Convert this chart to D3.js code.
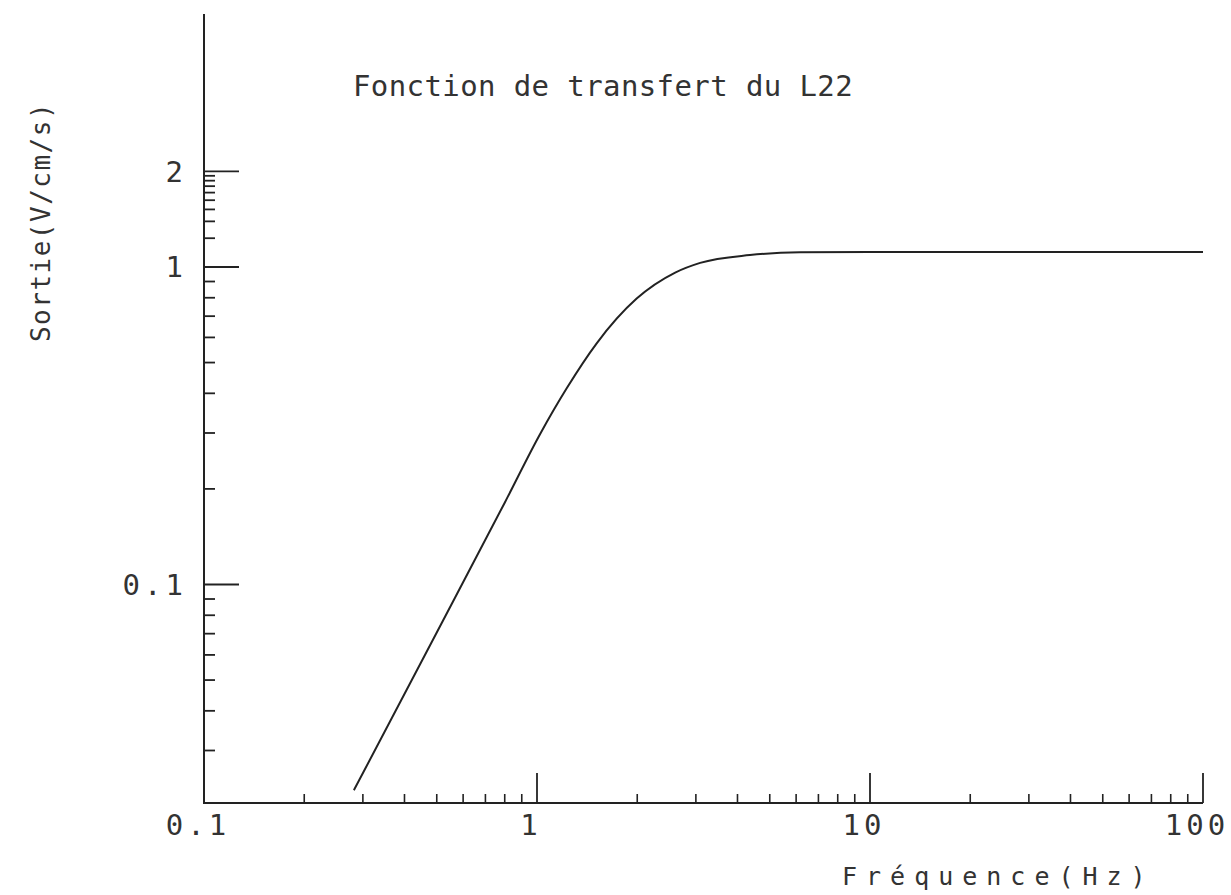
<!DOCTYPE html>
<html>
<head>
<meta charset="utf-8">
<script src="https://cdn.jsdelivr.net/npm/d3@7"></script>
<style>
  html, body { margin: 0; padding: 0; background: #fff; }
  svg { display: block; }
  text { font-family: "DejaVu Sans Mono", "Liberation Mono", monospace; fill: #333; }
</style>
</head>
<body>
<svg id="chart" width="1231" height="895"></svg>
<script>
// ---- data ----
const freqHz = [0.282, 0.50, 0.80, 1.021, 1.228, 1.511, 1.992, 2.6, 3.09, 4.36, 6.17, 10, 30, 100];
const outputVcms = [0.0225, 0.0706, 0.181, 0.2975, 0.415, 0.575, 0.795, 0.96, 1.03, 1.09, 1.112, 1.115, 1.115, 1.115];

const xMajorTicks = [1, 10, 100];
const xMinorTicks = [0.2,0.3,0.4,0.5,0.6,0.7,0.8,0.9, 2,3,4,5,6,7,8,9, 20,30,40,50,60,70,80,90];
const xTickLabels = [
  { v: 0.1, t: "0.1" }, { v: 1, t: "1" }, { v: 10, t: "10" }, { v: 100, t: "100" }
];
const yMajorTicks = [0.1, 1, 2];
const yMinorTicks = [0.03,0.04,0.05,0.06,0.07,0.08,0.09, 0.2,0.3,0.4,0.5,0.6,0.7,0.8,0.9,
                     1.232,1.392,1.518,1.623,1.715,1.797,1.870,1.937];
const yTickLabels = [ { v: 2, t: "2" }, { v: 1, t: "1" }, { v: 0.1, t: "0.1" } ];

const titleText = "Fonction de transfert du L22";
const xLabel = "Fréquence(Hz)";
const yLabel = "Sortie(V/cm/s)";

// ---- layout ----
const svg = d3.select("#chart");
const x = d3.scaleLog().domain([0.1, 100]).range([204, 1203]);
const y = d3.scaleLog().domain([0.0205, 2]).range([803, 171.4]);
const axisTop = 14;
const ink = "#222";

// axes lines
svg.append("line").attr("x1", x(0.1)).attr("x2", x(0.1))
  .attr("y1", y.range()[0]).attr("y2", axisTop)
  .attr("stroke", ink).attr("stroke-width", 2);
svg.append("line").attr("x1", x(0.1) - 1).attr("x2", x(100))
  .attr("y1", y.range()[0]).attr("y2", y.range()[0])
  .attr("stroke", ink).attr("stroke-width", 2);

// x ticks
const x0 = y.range()[0];
svg.append("g").selectAll("line").data(xMinorTicks).join("line")
  .attr("x1", d => x(d)).attr("x2", d => x(d))
  .attr("y1", x0).attr("y2", x0 - 9)
  .attr("stroke", ink).attr("stroke-width", 1.6);
svg.append("g").selectAll("line").data(xMajorTicks).join("line")
  .attr("x1", d => x(d)).attr("x2", d => x(d))
  .attr("y1", x0).attr("y2", x0 - 30)
  .attr("stroke", ink).attr("stroke-width", 1.8);

// y ticks
const y0 = x(0.1);
svg.append("g").selectAll("line").data(yMinorTicks).join("line")
  .attr("x1", y0).attr("x2", y0 + 11)
  .attr("y1", d => y(d)).attr("y2", d => y(d))
  .attr("stroke", ink).attr("stroke-width", 1.8);
svg.append("g").selectAll("line").data(yMajorTicks).join("line")
  .attr("x1", y0).attr("x2", y0 + 35)
  .attr("y1", d => y(d)).attr("y2", d => y(d))
  .attr("stroke", ink).attr("stroke-width", 1.8);

// tick labels
svg.append("g").selectAll("text").data(xTickLabels).join("text")
  .attr("x", d => x(d.v) - 6).attr("y", 835)
  .attr("text-anchor", "middle")
  .attr("font-size", 29).attr("letter-spacing", 4)
  .text(d => d.t);
svg.append("g").selectAll("text").data(yTickLabels).join("text")
  .attr("x", 187).attr("y", d => y(d.v))
  .attr("dy", "0.36em")
  .attr("text-anchor", "end")
  .attr("font-size", 29).attr("letter-spacing", 4)
  .text(d => d.t);

// title
svg.append("text").attr("x", 353).attr("y", 96)
  .attr("font-size", 29).attr("letter-spacing", 0.4)
  .text(titleText);

// axis labels
svg.append("text").attr("x", 842).attr("y", 885)
  .attr("font-size", 25).attr("letter-spacing", 9)
  .text(xLabel);
svg.append("text")
  .attr("transform", "translate(50,222) rotate(-90)")
  .attr("text-anchor", "middle")
  .attr("font-size", 26).attr("letter-spacing", 1.5)
  .text(yLabel);

// curve
const line = d3.line()
  .x(d => x(d[0])).y(d => y(d[1]))
  .curve(d3.curveMonotoneX);
svg.append("path")
  .datum(freqHz.map((f, i) => [f, outputVcms[i]]))
  .attr("d", line)
  .attr("fill", "none").attr("stroke", ink).attr("stroke-width", 2);
</script>
</body>
</html>
